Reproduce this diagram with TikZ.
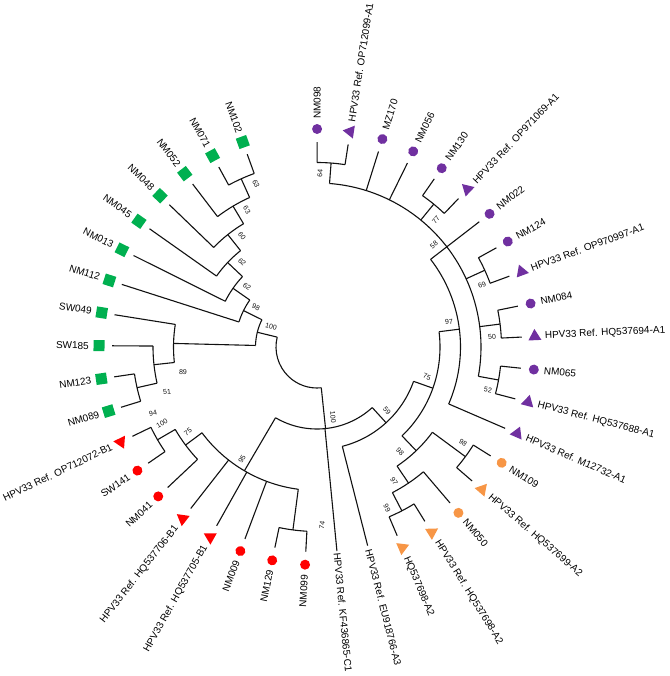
\documentclass[tikz,border=0pt]{standalone}
\usepackage{fontspec}
\setmainfont{Liberation Sans}
\usetikzlibrary{shapes.geometric}
\definecolor{cgreen}{HTML}{00B050}
\definecolor{cpurple}{HTML}{7030A0}
\definecolor{cred}{HTML}{FF0000}
\definecolor{corange}{HTML}{F79646}
\definecolor{cline}{HTML}{111111}
\begin{document}
\begin{tikzpicture}[x=1pt,y=1pt,
  br/.style={draw=cline,line width=1.1pt},
  mksq/.style={rectangle,minimum size=11pt,inner sep=0pt},
  mkci/.style={circle,minimum size=10pt,inner sep=0pt},
  mktu/.style={regular polygon,regular polygon sides=3,minimum size=15pt,inner sep=0pt},
  mktd/.style={regular polygon,regular polygon sides=3,shape border rotate=180,minimum size=15pt,inner sep=0pt},
  mkno/.style={inner sep=0pt,minimum size=0pt},
  leaflab/.style={font=\fontsize{10}{12}\selectfont,inner sep=0pt,text=black},
  boot/.style={font=\fontsize{7}{8}\selectfont,inner sep=0pt,text=cline}]
\useasboundingbox (0,0) rectangle (669,-676);
\begin{scope}[shift={(317,-347)}]
% arcs of internal nodes: radius / start / end / name
\foreach \rad/\st/\en/\nm in {
 184.5/109.9/118.62/A, 164/114.26/127.34/B, 143.5/120.80/136.06/C,
 123/128.43/144.78/D, 102.5/136.61/153.5/E, 82/145.05/162.22/F,
 184.5/188.38/197.10/J, 164/179.66/192.74/I, 143.5/170.94/186.2/H,
 61.5/153.64/178.57/G, 41/166.1/275.99/Root,
 184.5/205.82/214.54/AA, 164/210.18/223.26/BB, 184.5/258.14/266.86/DD,
 143.5/216.72/262.5/Z, 82/239.61/312.37/K, 102.5/284.30/340.43/M,
 123/313.73/367.14/N, 143.5/303.92/323.54/O, 164/297.38/310.46/S,
 184.5/293.02/301.74/R, 184.5/319.18/327.90/Q, 143.5/336.62/397.66/P,
 164/349.7/445.62/T, 184.5/345.34/354.06/Y, 184.5/362.78/371.50/X,
 184.5/380.22/388.94/W, 184.5/406.38/415.10/V, 184.5/441.26/449.98/U}{
  \draw[br] (\st:\rad pt) arc[start angle=\st,end angle=\en,radius=\rad pt];
}
% stems of internal nodes: angle / own radius / parent radius
\foreach \ang/\ra/\rb in {
 114.26/184.5/164, 120.80/164/143.5, 128.43/143.5/123, 136.61/123/102.5,
 145.05/102.5/82, 153.64/82/61.5, 192.74/184.5/164, 186.2/164/143.5,
 178.57/143.5/61.5, 166.1/61.5/41,
 210.18/184.5/164, 216.72/164/143.5, 262.5/184.5/143.5, 239.61/143.5/82,
 297.38/184.5/164, 303.92/164/143.5, 323.54/184.5/143.5, 313.73/143.5/123,
 349.7/184.5/164, 367.14/184.5/164, 384.58/184.5/164, 410.74/184.5/164,
 445.62/184.5/164, 397.66/164/143.5, 367.14/143.5/123, 340.43/123/102.5,
 312.37/102.5/82, 275.99/82/41}{
  \draw[br] (\ang:\ra pt) -- (\ang:\rb pt);
}
% leaves: index / parent radius / marker / colour / label radius / text
\foreach \i/\pr/\mk/\col/\lr/\txt in {
 1/184.5/mksq/cgreen/228/NM102, 2/184.5/mksq/cgreen/228/NM071,
 3/164/mksq/cgreen/228/NM052, 4/143.5/mksq/cgreen/228/NM048,
 5/123/mksq/cgreen/228/NM045, 6/102.5/mksq/cgreen/228/NM013,
 7/82/mksq/cgreen/228/NM112, 8/143.5/mksq/cgreen/228/SW049,
 9/164/mksq/cgreen/228/SW185, 10/184.5/mksq/cgreen/228/NM123,
 11/184.5/mksq/cgreen/228/NM089,
 12/184.5/mktd/cred/228/HPV33 Ref. OP712072-B1, 13/184.5/mkci/cred/228/SW141,
 14/164/mkci/cred/228/NM041, 15/143.5/mktu/cred/228/HPV33 Ref. HQ537706-B1,
 16/143.5/mktu/cred/228/HPV33 Ref. HQ537705-B1, 17/143.5/mkci/cred/228/NM009,
 18/184.5/mkci/cred/228/NM129, 19/184.5/mkci/cred/228/NM099,
 20/82/mkno/none/207/HPV33 Ref. KF436865-C1,
 21/102.5/mkno/none/209/HPV33 Ref. EU918766-A3,
 22/184.5/mktu/corange/228/HQ537698-A2, 23/184.5/mktu/corange/228/HPV33 Ref. HQ537698-A2,
 24/164/mkci/corange/228/NM050, 25/184.5/mktu/corange/228/HPV33 Ref. HQ537699-A2,
 26/184.5/mkci/corange/228/NM109,
 27/143.5/mktu/cpurple/228/HPV33 Ref. M12732-A1, 28/184.5/mktu/cpurple/228/HPV33 Ref. HQ537688-A1,
 29/184.5/mkci/cpurple/228/NM065, 30/184.5/mktu/cpurple/228/HPV33 Ref. HQ537694-A1,
 31/184.5/mkci/cpurple/228/NM084, 32/184.5/mktu/cpurple/228/HPV33 Ref. OP970997-A1,
 33/184.5/mkci/cpurple/228/NM124, 34/164/mkci/cpurple/228/NM022,
 35/184.5/mktu/cpurple/228/HPV33 Ref. OP971069-A1, 36/184.5/mkci/cpurple/228/NM130,
 37/164/mkci/cpurple/228/NM056, 38/164/mkci/cpurple/228/MZ170,
 39/184.5/mktu/cpurple/228/HPV33 Ref. OP712099-A1, 40/184.5/mkci/cpurple/228/NM098}{
  \pgfmathsetmacro\ang{109.9+8.72*(\i-1)}
  \pgfmathtruncatemacro\lft{cos(\ang)<0 ? 1 : 0}
  \ifnum\lft=1
    \pgfmathsetmacro\rot{\ang-180}\def\anc{east}
  \else
    \pgfmathsetmacro\rot{\ang}\def\anc{west}
  \fi
  \coordinate (b\i) at (\ang:\pr pt);
  \coordinate (t\i) at (\ang:205pt);
  \draw[br] (b\i) -- (t\i);
  \node[\mk,fill=\col,rotate=\rot] (m\i) at (\ang:218pt) {};
  \node[leaflab,rotate=\rot,anchor=\anc] (l\i) at (\ang:\lr pt) {\txt};
}
\end{scope}
% bootstrap values: x / y / rotation / text
\foreach \x/\y/\rot/\txt [count=\k] in {
 256/184/-65.7/63, 247/210/-59.2/63, 242/236/-51.6/60, 242/262/-43.4/62,
 247/287/-35/62, 256/307/-26.4/98, 271/327/-13.9/100, 183/372/-1.4/89,
 167/392/6.2/51, 153/413/12.7/94, 162/423/30.2/100, 188/432/36.7/75,
 242/459/59.6/95, 322/525/82.5/74, 333/417/-84/100, 387/411/-47.6/59,
 427/377/-19.6/75, 449/322/7.1/97, 434/245/37.7/58, 482/285/24.6/69,
 492/337/7.1/50, 488/390/-10.3/52, 436/220/50.7/77, 320/173/85.6/64,
 400/452/-46.3/98, 463/443/-36.5/98, 394/481/-56.1/97, 387/508/-62.6/99}{
  \node[boot,rotate=\rot] (bs\k) at (\x,-\y) {\txt};
}
\end{tikzpicture}
\end{document}
